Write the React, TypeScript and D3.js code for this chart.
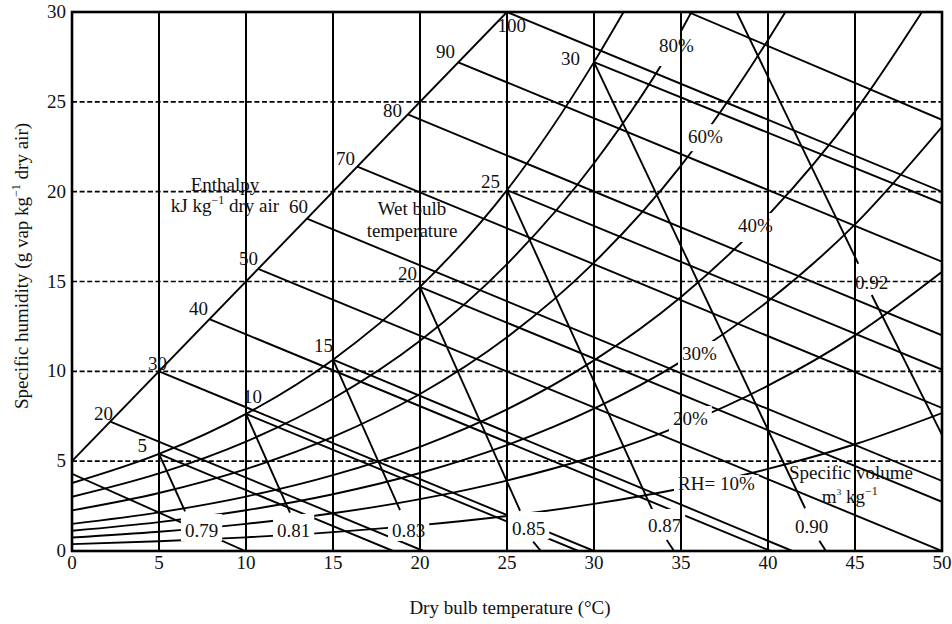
import React from "react";
import * as d3 from "d3";

// ---------- axes ----------
const xTicks = [0, 5, 10, 15, 20, 25, 30, 35, 40, 45, 50];
const yTicks = [0, 5, 10, 15, 20, 25, 30];
const dashedHumidity = [5, 10, 15, 20, 25];

// ---------- relative humidity curves: [dry bulb °C, g vap / kg dry air] ----------
const rhNames = ["100%", "80%", "60%", "40%", "30%", "20%", "10%"];
const rh100 = [[0, 3.78], [5, 5.4], [10, 7.63], [15, 10.65], [20, 14.7], [25, 20.09], [30, 27.21], [31.7, 30]];
const rh80 = [[0, 3.02], [5, 4.32], [10, 6.09], [15, 8.49], [20, 11.7], [25, 15.97], [30, 21.58], [35, 28.93], [35.6, 30]];
const rh60 = [[0, 2.26], [5, 3.23], [10, 4.56], [15, 6.35], [20, 8.74], [25, 11.9], [30, 16.05], [35, 21.45], [40, 28.44], [41, 30]];
const rh40 = [[0, 1.51], [5, 2.15], [10, 3.03], [15, 4.22], [20, 5.8], [25, 7.88], [30, 10.61], [35, 14.14], [40, 18.68], [45, 24.47], [48.85, 30]];
const rh30 = [[0, 1.13], [5, 1.61], [10, 2.27], [15, 3.16], [20, 4.34], [25, 5.89], [30, 7.92], [35, 10.54], [40, 13.9], [45, 18.18], [50, 23.61]];
const rh20 = [[0, 0.75], [5, 1.07], [10, 1.51], [15, 2.1], [20, 2.89], [25, 3.92], [30, 5.26], [35, 6.99], [40, 9.2], [45, 12.0], [50, 15.54]];
const rh10 = [[0, 0.38], [5, 0.54], [10, 0.76], [15, 1.05], [20, 1.44], [25, 1.95], [30, 2.62], [35, 3.48], [40, 4.57], [45, 5.94], [50, 7.68]];
const rhCurves = [rh100, rh80, rh60, rh40, rh30, rh20, rh10];

// ---------- enthalpy (kJ/kg dry air) ----------
const enthalpyScaleLine = [[0, 5], [25, 30]];
const enthalpyValues = [10, 20, 30, 40, 50, 60, 70, 80, 90, 100, 110];
const enthalpyFrom = [[0, 4.3], [2.2, 7.2], [5, 10], [7.9, 12.9], [10.7, 15.7], [13.5, 18.5], [16.4, 21.4], [19.3, 24.3], [22.2, 27.2], [25, 30], [35.4, 30]];
const enthalpyTo = [[9.95, 0], [20.2, 0], [30, 0], [40.15, 0], [50, 0], [50, 3.9], [50, 7.96], [50, 12.0], [50, 16.1], [50, 20.0], [50, 24.0]];
const enthalpyLabelText = ["20", "30", "40", "50", "60", "70", "80", "90", "100"];
const enthalpyLabelAt = [[2.36, 7.29], [5.46, 10.07], [7.82, 13.13], [10.69, 15.92], [13.56, 18.81], [16.26, 21.48], [18.97, 24.15], [22.01, 27.43], [26.09, 28.88]];

// ---------- wet bulb temperature ----------
const wetBulbTemps = ["5", "10", "15", "20", "25", "30"];
const wetBulbFrom = [[5, 5.4], [10, 7.63], [15, 10.65], [20, 14.7], [25, 20.09], [30, 27.21]];
const wetBulbTo = [[18.45, 0], [29.1, 0], [41.4, 0], [50, 2.74], [50, 10.1], [50, 19.35]];
const wetBulbLabelAt = [[4.31, 5.51], [10.92, 8.24], [15.0, 11.07], [19.83, 15.08], [24.6, 20.2], [29.2, 27.04]];

// ---------- specific volume (m3/kg) ----------
const volumeNames = ["0.79", "0.81", "0.83", "0.85", "0.87", "0.90", "0.92"];
const volumeUpper = [
  [[5, 5.4], [6.5, 2.2]],
  [[10, 7.63], [12.53, 2.13]],
  [[15, 10.65], [18.85, 2.28]],
  [[20, 14.7], [25.75, 2.24]],
  [[25, 20.09], [33.4, 2.19]],
  [[30, 27.21], [42.13, 2.38]],
  [[38.2, 30], [45.19, 15.99]],
];
const volumeLower = [
  null,
  null,
  null,
  [[26.5, 0.52], [26.95, 0]],
  [[34.18, 0.61], [34.6, 0]],
  [[42.95, 0.57], [43.33, 0]],
  [[45.96, 14.25], [50, 6.46]],
];
const volumeLabelAt = [[6.49, 0.78], [11.78, 0.78], [18.39, 0.78], [25.29, 0.89], [33.1, 1.06], [41.55, 1.0], [45.0, 14.58]];

// ---------- RH labels ----------
const rhLabelText = ["80%", "60%", "40%", "30%", "20%", "RH= 10%"];
const rhLabelAt = [[33.74, 27.77], [35.4, 22.7], [38.28, 17.75], [35.06, 10.63], [34.54, 7.01], [34.83, 3.39]];

const FONT = "'Liberation Serif', 'Times New Roman', Times, serif";
const FS = 19;

const charW: Record<string, number> = { "0": 0.5, "1": 0.5, "2": 0.5, "3": 0.5, "4": 0.5, "5": 0.5, "6": 0.5, "7": 0.5, "8": 0.5, "9": 0.5, ".": 0.25, "%": 0.833, R: 0.667, H: 0.722, "=": 0.564, " ": 0.25 };
const textWidth = (s: string) => s.split("").reduce((a, c) => a + (charW[c] ?? 0.5), 0) * FS;

export default function App() {
  const W = 952, H = 624;
  const x = d3.scaleLinear().domain([0, 50]).range([72, 942]);
  const y = d3.scaleLinear().domain([0, 30]).range([551, 12]);
  const curve = d3.line<number[]>().x((d) => x(d[0])).y((d) => y(d[1])).curve(d3.curveMonotoneX);
  const seg = d3.line<number[]>().x((d) => x(d[0])).y((d) => y(d[1]));

  // mask boxes (label knock-outs): [padL, padT, padR, padB]
  type Box = { x: number; y: number; w: number; h: number };
  const boxes: Box[] = [];
  const addBox = (t: string, at: number[], pad: number[]) => {
    const px = x(at[0]), base = y(at[1]);
    const tw = textWidth(t);
    boxes.push({ x: px - pad[0], y: base - 13 - pad[1], w: tw + pad[0] + pad[2], h: 13 + pad[1] + pad[3] });
  };
  volumeNames.forEach((t, i) => { if (i < 6) addBox(t, volumeLabelAt[i], [4, 10, 4, 4]); });
  const rhPads = [[4, 8, 4, 14], [4, 6, 4, 8], [4, 6, 4, 10], [4, 6, 4, 6], [4, 6, 4, 6], [4, 2, 4, 5]];
  rhLabelText.forEach((t, i) => addBox(t, rhLabelAt[i], rhPads[i]));

  const sw = 1.9;

  return (
    <svg width={W} height={H} style={{ position: "absolute", left: 0, top: 0, background: "#fff" }} fontFamily={FONT}>
      <defs>
        <clipPath id="plotClip">
          <rect x={x(0)} y={y(30)} width={x(50) - x(0)} height={y(0) - y(30)} />
        </clipPath>
        <mask id="labelMask" maskUnits="userSpaceOnUse" x={0} y={0} width={W} height={H}>
          <rect x={0} y={0} width={W} height={H} fill="#fff" />
          {boxes.map((b, i) => (
            <rect key={i} x={b.x} y={b.y} width={b.w} height={b.h} fill="#000" />
          ))}
        </mask>
      </defs>
      <rect x={0} y={0} width={W} height={H} fill="#fff" />

      {/* dashed horizontal grid */}
      {dashedHumidity.map((v) => (
        <line key={v} x1={x(0)} x2={x(50)} y1={y(v)} y2={y(v)} stroke="#000" strokeWidth={1.6} strokeDasharray="5 2.6" />
      ))}
      {/* vertical grid */}
      {xTicks.slice(1, -1).map((v) => (
        <line key={v} x1={x(v)} x2={x(v)} y1={y(0)} y2={y(30)} stroke="#000" strokeWidth={2} />
      ))}

      <g clipPath="url(#plotClip)">
        <g mask="url(#labelMask)" fill="none" stroke="#000" strokeWidth={sw} strokeLinecap="butt">
          {rhCurves.map((c, i) => (
            <path key={rhNames[i]} d={curve(c) || ""} />
          ))}
          <path d={seg(enthalpyScaleLine) || ""} />
          {enthalpyValues.map((h, i) => (
            <path key={"h" + h} d={seg([enthalpyFrom[i], enthalpyTo[i]]) || ""} />
          ))}
          {wetBulbTemps.map((t, i) => (
            <path key={"wb" + t} d={seg([wetBulbFrom[i], wetBulbTo[i]]) || ""} />
          ))}
          {volumeNames.map((v, i) => (
            <g key={"v" + v}>
              <path d={seg(volumeUpper[i]) || ""} />
              {volumeLower[i] && <path d={seg(volumeLower[i] as number[][]) || ""} />}
            </g>
          ))}
        </g>
      </g>

      {/* frame */}
      <rect x={x(0)} y={y(30)} width={x(50) - x(0)} height={y(0) - y(30)} fill="none" stroke="#000" strokeWidth={2.6} />

      {/* tick labels */}
      <g fontSize={FS} fill="#111">
        {xTicks.map((v) => (
          <text key={"xt" + v} x={x(v)} y={y(0) + 18} textAnchor="middle">{v}</text>
        ))}
        {yTicks.map((v) => (
          <text key={"yt" + v} x={x(0) - 6} y={y(v) + 6} textAnchor="end">{v}</text>
        ))}
      </g>

      {/* axis titles */}
      <text x={510} y={614} fontSize={FS} textAnchor="middle" fill="#111">Dry bulb temperature (°C)</text>
      <text transform="translate(28,266) rotate(-90)" fontSize={FS} textAnchor="middle" fill="#111">
        Specific humidity (g vap kg<tspan fontSize={12} dy={-8}>−1</tspan><tspan dy={8}> dry air)</tspan>
      </text>

      {/* labels */}
      <g fontSize={FS} fill="#111">
        {enthalpyLabelText.map((t, i) => (
          <text key={"hl" + t} x={x(enthalpyLabelAt[i][0])} y={y(enthalpyLabelAt[i][1])} textAnchor="end">{t}</text>
        ))}
        {wetBulbTemps.map((t, i) => (
          <text key={"wl" + t} x={x(wetBulbLabelAt[i][0])} y={y(wetBulbLabelAt[i][1])} textAnchor="end">{t}</text>
        ))}
        {volumeNames.map((t, i) => (
          <text key={"vl" + t} x={x(volumeLabelAt[i][0])} y={y(volumeLabelAt[i][1])}>{t}</text>
        ))}
        {rhLabelText.map((t, i) => (
          <text key={"rl" + t} x={x(rhLabelAt[i][0])} y={y(rhLabelAt[i][1])}>{t}</text>
        ))}

        <text x={x(8.79)} y={y(20.05)} textAnchor="middle">Enthalpy</text>
        <text x={x(8.79)} y={y(18.85)} textAnchor="middle">
          kJ kg<tspan fontSize={12} dy={-8}>−1</tspan><tspan dy={8}> dry air</tspan>
        </text>
        <text x={x(19.54)} y={y(18.7)} textAnchor="middle">Wet bulb</text>
        <text x={x(19.54)} y={y(17.47)} textAnchor="middle">temperature</text>
        <text x={x(44.77)} y={y(4.0)} textAnchor="middle">Specific volume</text>
        <text x={x(44.7)} y={y(2.67)} textAnchor="middle">
          m<tspan fontSize={9} dy={-8}>3</tspan><tspan dy={8}> kg</tspan><tspan fontSize={12} dy={-8}>−1</tspan>
        </text>
      </g>
    </svg>
  );
}
